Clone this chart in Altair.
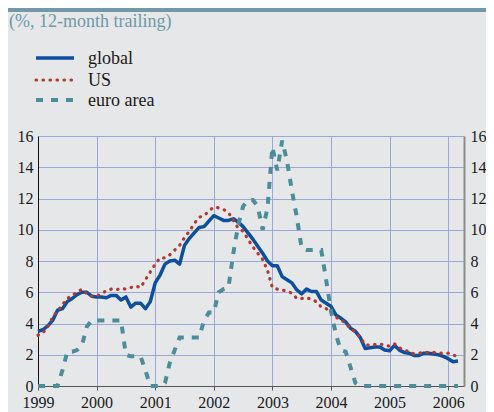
import altair as alt
import pandas as pd

# ---------------- data ----------------
start_month = "1999-01-01"
n_months = 87
series_names = ["global", "US", "euro area"]
series_colors = ["#0b4f9e", "#b3392f", "#4b8d9a"]
title_text = "(%, 12-month trailing)"
year_ticks = [1999, 2000, 2001, 2002, 2003, 2004, 2005, 2006]
y_ticks = [0, 2, 4, 6, 8, 10, 12, 14, 16]

global_vals = [
    3.5, 3.6, 3.85, 4.2, 4.85, 4.95, 5.4, 5.6, 5.85, 6.0, 6.0, 5.75,
    5.7, 5.7, 5.65, 5.8, 5.8, 5.5, 5.7, 5.05, 5.3, 5.3, 4.95, 5.4,
    6.6, 7.1, 7.8, 8.0, 8.05, 7.8, 9.0, 9.45, 9.8, 10.15, 10.2, 10.55,
    10.9, 10.75, 10.6, 10.6, 10.7, 10.5, 10.2, 9.8, 9.4, 8.95, 8.5, 8.0,
    7.7, 7.7, 7.0, 6.8, 6.6, 6.15, 5.9, 6.2, 6.05, 6.05, 5.5, 5.3,
    5.1, 4.55, 4.35, 4.1, 3.7, 3.5, 3.1, 2.4, 2.45, 2.5, 2.5, 2.3,
    2.25, 2.6, 2.3, 2.15, 2.1, 1.95, 1.95, 2.1, 2.1, 2.05, 2.0, 1.9,
    1.75, 1.55, 1.6,
]
us_vals = [
    3.25, 3.4, 3.8, 4.4, 4.8, 5.2, 5.6, 5.8, 6.0, 6.2, 5.9, 5.75,
    5.75, 5.9, 6.1, 6.2, 6.15, 6.25, 6.2, 6.3, 6.4, 6.3, 6.8, 7.3,
    7.8, 8.2, 8.2, 8.4, 8.7, 9.0, 9.5, 9.9, 10.4, 10.8, 10.9, 11.2,
    11.45, 11.4, 11.3, 11.1, 10.6, 10.1, 9.9, 9.4, 8.9, 8.5, 8.1, 7.4,
    6.3, 6.2, 6.15, 6.05, 5.95, 5.6, 5.6, 5.65, 5.55, 5.4, 5.05, 4.95,
    4.7, 4.4, 4.25, 4.0, 3.7, 3.45, 3.1, 2.65, 2.6, 2.65, 2.7, 2.6,
    2.55, 2.7, 2.45, 2.3, 2.2, 2.05, 2.1, 2.15, 2.15, 2.15, 2.1, 2.1,
    2.1, 2.0, 1.85,
]
euro_vals = [
    0.0, 0.0, 0.0, 0.0, 0.0, 1.0, 2.2, 2.2, 2.3, 2.6, 3.8, 4.2,
    4.2, 4.2, 4.2, 4.2, 4.2, 4.2, 2.0, 1.9, 1.9, 1.9, 1.0, 0.0,
    0.0, 0.0, 0.2, 1.5, 2.3, 3.1, 3.1, 3.1, 3.1, 3.1, 4.2, 4.7,
    4.7, 6.0, 6.2, 6.3, 8.5, 10.3, 11.5, 11.9, 11.9, 11.5, 10.0, 11.4,
    15.3, 13.8, 15.7, 14.4, 12.5, 10.8, 8.8, 8.7, 8.7, 8.7, 8.7, 6.8,
    4.8, 3.3, 2.3, 2.2, 1.2, 0.2, 0.0, 0.0, 0.0, 0.0, 0.0, 0.0,
    0.0, 0.0, 0.0, 0.0, 0.0, 0.0, 0.0, 0.0, 0.0, 0.0, 0.0, 0.0,
    0.0, 0.0, 0.0,
]

# ---------------- table ----------------
months = pd.date_range(start_month, periods=n_months, freq="MS")
t = list(months.year + (months.month - 1) / 12.0)
df = pd.DataFrame({
    "t": t * 3,
    "series": [series_names[0]] * n_months + [series_names[1]] * n_months + [series_names[2]] * n_months,
    "value": global_vals + us_vals + euro_vals,
})

FONT = "'Liberation Serif', 'Times New Roman', Times, serif"
GRID = "#9ea8d8"
BG = "#e6e7e9"

x_enc = alt.X(
    "t:Q",
    scale=alt.Scale(domain=[1999, 2006.27], nice=False, zero=False),
    axis=alt.Axis(values=year_ticks, format="d", title=None, grid=True, gridColor=GRID,
                  gridWidth=1, domainColor="#555555", domainWidth=1, ticks=True,
                  tickColor="#555555", tickSize=4, labelPadding=4, labelFlush=False,
                  labelOverlap=False),
)
y_scale = alt.Scale(domain=[0, 16], nice=False, zero=True)
color_enc = alt.Color("series:N", scale=alt.Scale(domain=series_names, range=series_colors), legend=None)

base = alt.Chart(df)

glob = base.transform_filter(alt.datum.series == series_names[0]).mark_line(
    strokeWidth=3.5, strokeJoin="round"
).encode(
    x=x_enc,
    y=alt.Y("value:Q", scale=y_scale,
            axis=alt.Axis(values=y_ticks, title=None, grid=True, gridColor=GRID, gridWidth=1,
                          domainColor="#111111", domainWidth=1, ticks=False, labelPadding=5,
                          orient="left")),
    color=color_enc,
)

us = base.transform_filter(alt.datum.series == series_names[1]).mark_line(
    strokeWidth=3.2, strokeCap="round", strokeDash=[0.5, 6.5]
).encode(
    x=x_enc,
    y=alt.Y("value:Q", scale=y_scale, axis=None),
    color=color_enc,
)

euro = base.transform_filter(alt.datum.series == series_names[2]).mark_line(
    strokeWidth=4, strokeDash=[7, 8]
).encode(
    x=x_enc,
    y=alt.Y("value:Q", scale=y_scale,
            axis=alt.Axis(values=y_ticks, title=None, grid=False, domainColor="#8c8c8c",
                          domainWidth=2, ticks=False, labelPadding=6, orient="right")),
    color=color_enc,
)

# ---------------- decorations: band, title, legend ----------------
band = alt.Chart(pd.DataFrame({"k": [0]})).mark_rect(color="#7499a6").encode(
    x=alt.value(-30), x2=alt.value(448), y=alt.value(-128), y2=alt.value(-124)
)
title = alt.Chart(pd.DataFrame({"label": [title_text]})).mark_text(
    align="left", baseline="middle", font=FONT, fontSize=18, color="#6e9aa7"
).encode(text="label:N", x=alt.value(-29), y=alt.value(-114))

legend_y = [-78, -56, -36]
legend_styles = [
    dict(strokeWidth=3.5),
    dict(strokeWidth=3.2, strokeCap="round", strokeDash=[0.5, 6.5]),
    dict(strokeWidth=4, strokeDash=[7, 8]),
]
legend_layers = []
for name, col, ly, st in zip(series_names, series_colors, legend_y, legend_styles):
    d = pd.DataFrame({"label": [name]})
    legend_layers.append(
        alt.Chart(d).mark_rule(color=col, **st).encode(
            x=alt.value(-2), x2=alt.value(36), y=alt.value(ly)
        )
    )
    legend_layers.append(
        alt.Chart(d).mark_text(align="left", baseline="middle", font=FONT, fontSize=18,
                               color="#1a1a1a").encode(
            text="label:N", x=alt.value(50), y=alt.value(ly + 1)
        )
    )

chart = alt.layer(glob, us, euro, band, title, *legend_layers).resolve_scale(
    y="independent"
).properties(
    width=426,
    height=250,
    autosize=alt.AutoSizeParams(type="none"),
    padding={"left": 30, "top": 128, "right": 22, "bottom": 26},
    background=BG,
).configure_view(
    strokeWidth=0
).configure_axis(
    labelFont=FONT, labelFontSize=16, labelColor="#1a1a1a"
)

chart.save("out.html", embed_options={"renderer": "svg", "actions": False})
